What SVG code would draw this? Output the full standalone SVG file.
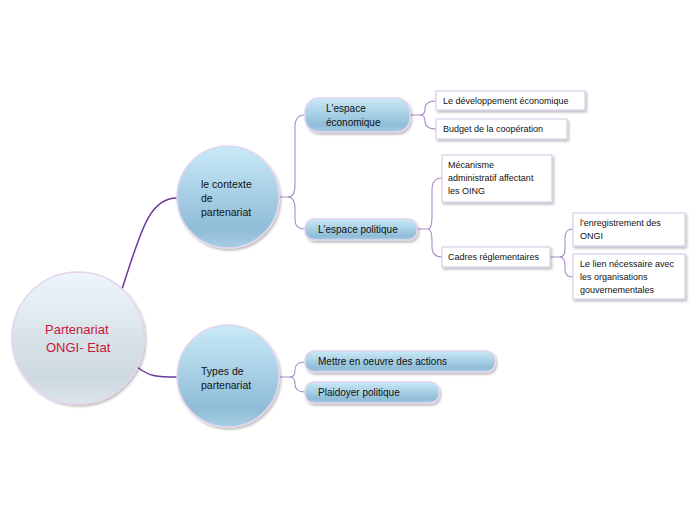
<svg xmlns="http://www.w3.org/2000/svg" width="696" height="520" viewBox="0 0 696 520">
<defs>
<linearGradient id="gBlue" x1="0" y1="0" x2="0" y2="1">
<stop offset="0" stop-color="#c9eaf8"/>
<stop offset="0.82" stop-color="#8fbcd7"/>
<stop offset="1" stop-color="#a8cfe3"/>
</linearGradient>
<linearGradient id="gRoot" x1="0" y1="0" x2="0" y2="1">
<stop offset="0" stop-color="#edf6fa"/>
<stop offset="0.8" stop-color="#ccd8df"/>
<stop offset="1" stop-color="#dce6eb"/>
</linearGradient>
<filter id="sh" x="-20%" y="-20%" width="140%" height="150%">
<feDropShadow dx="1.5" dy="2" stdDeviation="1.2" flood-color="#000" flood-opacity="0.25"/>
</filter>
</defs>
<style>
.blue{fill:url(#gBlue);stroke:#e4d4f0;stroke-width:1.5;filter:url(#sh)}
.root{fill:url(#gRoot);stroke:#e4d4f0;stroke-width:1.5;filter:url(#sh)}
.box{fill:#fff;stroke:#dccbea;stroke-width:1.2;filter:url(#sh)}
.t{font-family:"Liberation Sans",Arial,sans-serif;fill:#111}
.t1{font-size:10.5px}
.t2{font-size:10px}
.t3{font-size:9px}
.rt{font-family:"Liberation Sans",Arial,sans-serif;font-size:13px;fill:#c8173a}
.c0{fill:none;stroke:#6a3a9a;stroke-width:1.5}
.c1{fill:none;stroke:#a98dc9;stroke-width:1.1}
</style>
<g id="connectors">
<path class="c0" d="M122,289 C140,235 148,198 177,198"/>
<path class="c0" d="M137,367 C150,377 158,377 177,377"/>
<path class="c1" d="M279,197 H288 Q295,197 295,185 V127 Q295,115 305,115"/>
<path class="c1" d="M288,197 Q295,197 295,209 V220 Q295,229 305,229"/>
<path class="c1" d="M410,115 H420 Q425,115 425,109 Q425,101 436,101"/>
<path class="c1" d="M420,115 Q425,115 425,121 Q425,129 436,129"/>
<path class="c1" d="M417,229 H428 Q432,229 432,216 V190 Q432,178 442,178"/>
<path class="c1" d="M428,229 Q432,229 432,242 V247 Q432,257 442,257"/>
<path class="c1" d="M550,257 H560 Q565,257 565,248 V238 Q565,229 573,229"/>
<path class="c1" d="M560,257 Q565,257 565,266 V270 Q565,277 573,277"/>
<path class="c1" d="M280,377 H290 Q295,377 295,370 Q295,362 305,362"/>
<path class="c1" d="M290,377 Q295,377 295,384 Q295,392 305,392"/>
</g>
<g id="root">
<circle class="root" cx="78" cy="338" r="66"/>
<text class="rt" x="45" y="334">Partenariat</text>
<text class="rt" x="46" y="352">ONGI- Etat</text>
</g>
<g id="contexte">
<circle class="blue" cx="228" cy="197" r="51"/>
<text class="t t1" x="201" y="188">le contexte</text>
<text class="t t1" x="201" y="202">de</text>
<text class="t t1" x="201" y="216">partenariat</text>
</g>
<g id="types">
<circle class="blue" cx="228" cy="376" r="51"/>
<text class="t t1" x="201" y="375">Types de</text>
<text class="t t1" x="201" y="389">partenariat</text>
</g>
<g id="espace-eco">
<rect class="blue" x="305" y="98" width="105" height="34" rx="14"/>
<text class="t t2" x="326" y="112">L'espace</text>
<text class="t t2" x="326" y="126">économique</text>
</g>
<g id="espace-pol">
<rect class="blue" x="305" y="219" width="112" height="21" rx="9"/>
<text class="t t2" x="318" y="233">L'espace politique</text>
</g>
<g id="dev-eco">
<rect class="box" x="436" y="91" width="149" height="19"/>
<text class="t t3" x="443" y="104">Le développement économique</text>
</g>
<g id="budget">
<rect class="box" x="436" y="119" width="131" height="20"/>
<text class="t t3" x="443" y="132">Budget de la coopération</text>
</g>
<g id="mecanisme">
<rect class="box" x="442" y="155" width="110" height="47"/>
<text class="t t3" x="448" y="168">Mécanisme</text>
<text class="t t3" x="448" y="181">administratif affectant</text>
<text class="t t3" x="448" y="194">les OING</text>
</g>
<g id="cadres">
<rect class="box" x="442" y="247" width="108" height="20"/>
<text class="t t3" x="448" y="260">Cadres réglementaires</text>
</g>
<g id="enregistrement">
<rect class="box" x="573" y="213" width="112" height="33"/>
<text class="t t3" x="580" y="226">l'enregistrement des</text>
<text class="t t3" x="580" y="239">ONGI</text>
</g>
<g id="lien">
<rect class="box" x="573" y="254" width="112" height="45"/>
<text class="t t3" x="580" y="267">Le lien nécessaire avec</text>
<text class="t t3" x="580" y="280">les organisations</text>
<text class="t t3" x="580" y="293">gouvernementales</text>
</g>
<g id="mettre">
<rect class="blue" x="305" y="351" width="190" height="21" rx="9"/>
<text class="t t2" x="318" y="365">Mettre en oeuvre des actions</text>
</g>
<g id="plaidoyer">
<rect class="blue" x="305" y="382" width="134" height="21" rx="9"/>
<text class="t t2" x="318" y="396">Plaidoyer politique</text>
</g>
</svg>
